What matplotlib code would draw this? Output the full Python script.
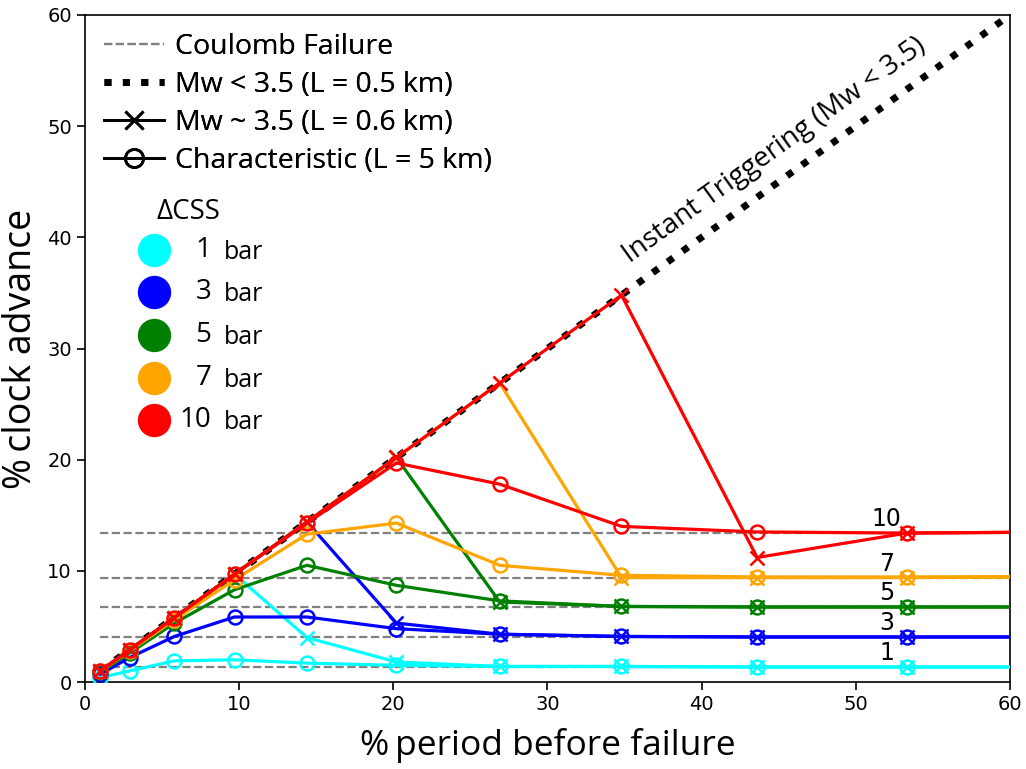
import matplotlib
matplotlib.use("Agg")
import matplotlib.pyplot as plt
from matplotlib.lines import Line2D

# ---- data ----
x_period = [1.0, 2.9, 5.8, 9.7, 14.4, 20.2, 26.9, 34.8, 43.6, 53.3, 64.0]
css_bars = [1, 3, 5, 7, 10]
colors = ['cyan', 'blue', 'green', 'orange', 'red']
coulomb_levels = [1.35, 4.05, 6.75, 9.4, 13.45]

# Characteristic (L = 5 km), circles
char_1 = [0.4, 1.0, 1.9, 2.0, 1.7, 1.5, 1.4, 1.4, 1.35, 1.35, 1.35]
char_3 = [0.7, 2.2, 4.1, 5.85, 5.85, 4.8, 4.3, 4.1, 4.05, 4.05, 4.05]
char_5 = [0.9, 2.6, 5.3, 8.3, 10.5, 8.7, 7.3, 6.8, 6.75, 6.75, 6.75]
char_7 = [1.0, 2.8, 5.6, 9.2, 13.3, 14.3, 10.5, 9.6, 9.45, 9.45, 9.5]
char_10 = [1.0, 2.9, 5.8, 9.7, 14.3, 19.7, 17.8, 14.0, 13.5, 13.4, 13.5]

# Mw ~ 3.5 (L = 0.6 km), crosses
mw_1 = [1.0, 2.9, 5.8, 9.7, 4.0, 1.8, 1.4, 1.4, 1.35, 1.35, 1.35]
mw_3 = [1.0, 2.9, 5.8, 9.7, 14.4, 5.3, 4.3, 4.1, 4.05, 4.05, 4.05]
mw_5 = [1.0, 2.9, 5.8, 9.7, 14.4, 20.2, 7.2, 6.8, 6.75, 6.75, 6.75]
mw_7 = [1.0, 2.9, 5.8, 9.7, 14.4, 20.2, 26.9, 9.4, 9.4, 9.4, 9.45]
mw_10 = [1.0, 2.9, 5.8, 9.7, 14.4, 20.2, 26.9, 34.8, 11.2, 13.4, 13.5]

instant_x = [1, 60]
instant_y = [1, 60]

char_all = [char_1, char_3, char_5, char_7, char_10]
mw_all = [mw_1, mw_3, mw_5, mw_7, mw_10]

plt.rcParams['font.family'] = ['Open Sans', 'DejaVu Sans']

fig = plt.figure(figsize=(10.26, 7.69), dpi=100)
ax = fig.add_axes([0.0828, 0.1131, 0.9016, 0.8674])

# Coulomb failure levels
for lvl in coulomb_levels:
    ax.plot([1, 60], [lvl, lvl], color='gray', ls='--', lw=1.6, zorder=1)

# instant triggering
ax.plot(instant_x, instant_y, color='black', ls=':', lw=5, zorder=2)

for c, ch, mw in zip(colors, char_all, mw_all):
    ax.plot(x_period, ch, color=c, lw=2.3, marker='o', ms=10, mfc='none',
            mew=1.8, zorder=3)
    ax.plot(x_period, mw, color=c, lw=2.3, marker='x', ms=10, mew=1.8,
            zorder=3)

# level labels
for b, lvl in zip(css_bars, coulomb_levels):
    ax.text(52.0, lvl + 1.25, str(b), ha='center', va='center',
            fontsize=17, family='DejaVu Sans')

ax.text(44.75, 47.85, 'Instant Triggering (Mw < 3.5)', rotation=35.8,
        rotation_mode='anchor', ha='center', va='center', fontsize=20)

ax.set_xlim(0, 60)
ax.set_ylim(0, 60)
ax.set_xticks([0, 10, 20, 30, 40, 50, 60])
ax.set_yticks([0, 10, 20, 30, 40, 50, 60])
for lab in ax.get_xticklabels() + ax.get_yticklabels():
    lab.set_family('DejaVu Sans')
    lab.set_fontsize(14)
ax.tick_params(length=6, width=1.2)
for s in ax.spines.values():
    s.set_linewidth(1.2)

ax.set_xlabel('%\u2009period before failure', fontsize=25.5, labelpad=10)
ax.set_ylabel('%\u2009clock advance', fontsize=27, labelpad=5)

handles = [
    Line2D([], [], color='gray', ls='--', lw=1.6),
    Line2D([], [], color='black', ls=':', lw=5),
    Line2D([], [], color='black', lw=2, marker='x', ms=13, mew=2),
    Line2D([], [], color='black', lw=2, marker='o', ms=13, mfc='none', mew=2),
]
labels = ['Coulomb Failure', 'Mw < 3.5 (L = 0.5 km)', 'Mw ~ 3.5 (L = 0.6 km)',
          'Characteristic (L = 5 km)']
leg = ax.legend(handles, labels, loc='upper left', frameon=False, fontsize=20.5,
                handlelength=2.1, handletextpad=0.42, labelspacing=0.35,
                borderaxespad=0.0, bbox_to_anchor=(0.008, 0.9895))
ax.add_artist(leg)

# Delta CSS legend (manual)
ax.text(0.1115, 0.704, 'ΔCSS', transform=ax.transAxes, ha='center',
        va='center', fontsize=20)
ys = [0.648, 0.585, 0.521, 0.456, 0.393]
for c, b, yy in zip(colors, css_bars, ys):
    ax.plot([0.0746], [yy], 'o', color=c, ms=23, transform=ax.transAxes,
            clip_on=False)
    ax.text(0.1365, yy, str(b), transform=ax.transAxes, ha='right',
            va='center', fontsize=20)
    ax.text(0.1505, yy - 0.004, 'bar', transform=ax.transAxes, ha='left',
            va='center', fontsize=18)

fig.savefig('out.png', dpi=100)
